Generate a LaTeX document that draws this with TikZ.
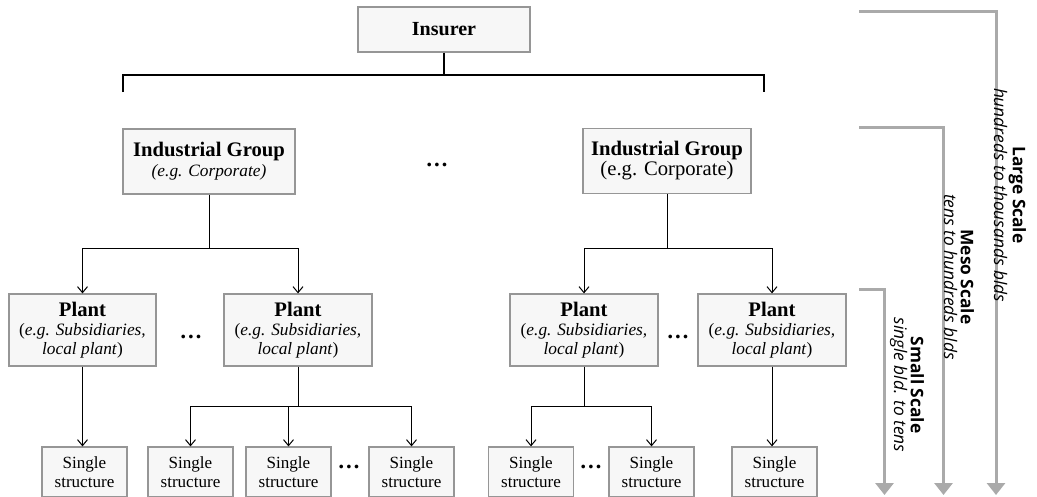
\documentclass[tikz,border=0pt]{standalone}
\usepackage{fontspec}
\setmainfont{Liberation Serif}
\newfontfamily\labelsans{Open Sans}
\usetikzlibrary{arrows.meta}
\definecolor{boxfill}{RGB}{247,247,247}
\definecolor{boxline}{RGB}{150,150,150}
\definecolor{scalegray}{RGB}{170,170,170}
\tikzset{
  box/.style={draw=boxline, fill=boxfill, line width=0.9pt, inner sep=0pt, align=center},
  toplevel/.style={box, minimum width=129pt, minimum height=33.75pt, font=\fontsize{15}{17}\selectfont\bfseries},
  group/.style={box, minimum height=48.75pt, font=\fontsize{13}{15}\selectfont},
  plant/.style={box, minimum width=111pt, minimum height=54pt, font=\fontsize{13}{14.2}\selectfont},
  single/.style={box, minimum width=63.75pt, minimum height=37.5pt, font=\fontsize{12.8}{14}\selectfont},
  link/.style={draw=black, line width=0.75pt},
  arr/.style={link, -{Straight Barb[length=4.5pt,width=7.5pt]}},
  bracket/.style={draw=black, line width=1.5pt},
  scaleline/.style={draw=scalegray, line width=2.25pt, -{Triangle[length=9pt,width=13.5pt]}},
  scalelabel/.style={rotate=-90, align=center, text=black, inner sep=0pt,
    font=\labelsans\fontsize{13}{12.5}\selectfont},
  gap/.style={font=\fontsize{17}{17}\selectfont\bfseries, inner sep=0pt}
}
\newcommand{\plantlabel}{{\fontsize{15.5}{14.2}\selectfont\bfseries Plant}\\(\textit{e.g. Subsidiaries,}\\\textit{local plant})}
\begin{document}
\begin{tikzpicture}[x=0.75pt, y=-0.75pt]
\useasboundingbox (0,0) rectangle (1037,496);

% top level
\node[toplevel] (ins) at (444,29.5) {Insurer};
\coordinate (bl) at (123,92);
\coordinate (br) at (764,92);
\coordinate (bh) at (444,75);
\draw[bracket] (ins.south) -- (bh);
\draw[bracket] (bl) |- (bh) -| (br);

% industrial groups
\node[group, minimum width=129pt] (igL) at (209,161.5)
  {{\fontsize{15.5}{15}\selectfont\bfseries Industrial Group}\\\textit{(e.g. Corporate)}};
\node[group, minimum width=126pt] (igR) at (667,161)
  {{\fontsize{15.5}{15}\selectfont\bfseries Industrial Group}\\{\fontsize{15.5}{15}\selectfont (e.g. Corporate)}};
\node[gap] (d1) at (437,165) {…};

% plants
\node[plant, minimum width=110.25pt] (pl1) at (82.5,330) {\plantlabel};
\node[plant] (pl2) at (298,330) {\plantlabel};
\node[plant] (pl3) at (584,330) {\plantlabel};
\node[plant] (pl4) at (772,330) {\plantlabel};
\node[gap] (d2) at (191,337) {…};
\node[gap] (d3) at (678,337) {…};

% single structures
\node[single] (sA) at (84.5,472) {Single\\structure};
\node[single] (sB) at (190.5,472) {Single\\structure};
\node[single] (sC) at (288.5,472) {Single\\structure};
\node[single] (sD) at (411.5,472) {Single\\structure};
\node[single] (sE) at (531,472) {Single\\structure};
\node[single] (sF) at (651.5,472) {Single\\structure};
\node[single] (sG) at (774.5,472) {Single\\structure};
\node[gap] (d4) at (349,467) {…};
\node[gap] (d5) at (591,467) {…};

% connectors
\coordinate (r1) at (0,248);
\coordinate (r2) at (0,406);
\draw[arr] (igL.south) |- (pl1.north |- r1) -- (pl1.north);
\draw[arr] (igL.south |- r1) -| (pl2.north);
\draw[arr] (igR.south) |- (pl3.north |- r1) -- (pl3.north);
\draw[arr] (igR.south |- r1) -| (pl4.north);

\draw[arr] (pl1.south) -- (pl1.south |- sA.north);
\draw[arr] (pl2.south) |- (sB.north |- r2) -- (sB.north);
\draw[arr] (pl2.south |- r2) -| (sD.north);
\draw[arr] (sC.north |- r2) -- (sC.north);
\draw[arr] (pl3.south) |- (sE.north |- r2) -- (sE.north);
\draw[arr] (pl3.south |- r2) -| (sF.north);
\draw[arr] (pl4.south) -- (pl4.south |- sG.north);

% scale brackets
\coordinate (lgS) at (859,11);
\coordinate (lgE) at (996,495);
\coordinate (msS) at (859,127);
\coordinate (msE) at (943.5,495);
\coordinate (smS) at (859,289);
\coordinate (smE) at (884.5,495);
\draw[scaleline] (lgS) -| (lgE);
\draw[scaleline] (msS) -| (msE);
\draw[scaleline] (smS) -| (smE);
\node[scalelabel] (lgL) at (1010,195) {\textbf{Large Scale}\\\textit{hundreds to thousands blds}};
\node[scalelabel] (msL) at (959,277) {\textbf{Meso Scale}\\\textit{tens to hundreds blds}};
\node[scalelabel] (smL) at (907,385) {\textbf{Small Scale}\\\textit{single bld. to tens}};
\end{tikzpicture}
\end{document}
